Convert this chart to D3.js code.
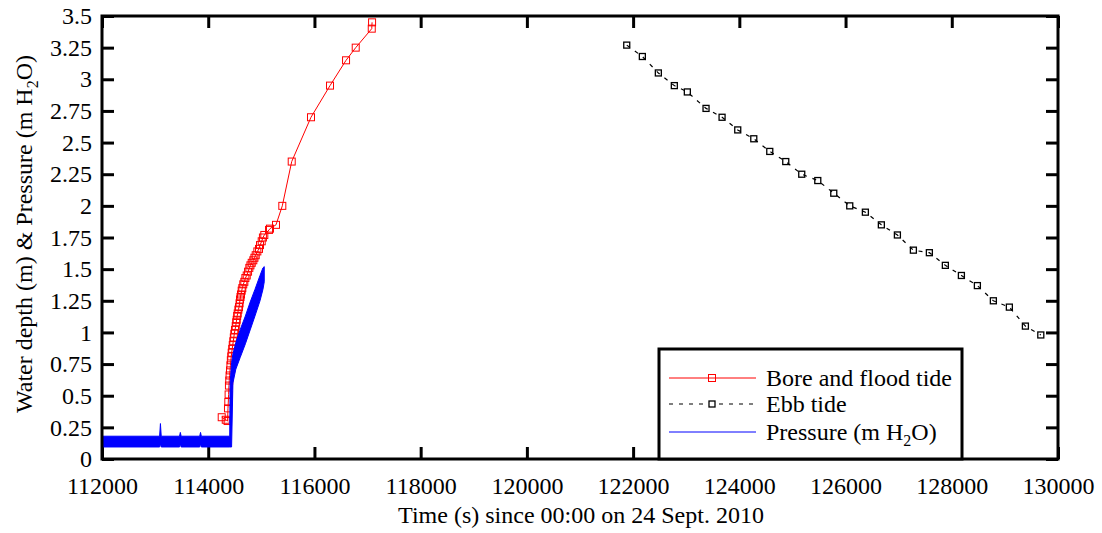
<!DOCTYPE html>
<html>
<head>
<meta charset="utf-8">
<script src="https://cdn.jsdelivr.net/npm/d3@7"></script>
<style>
  body { margin: 0; background: #fff; }
</style>
</head>
<body>
<div id="chart"></div>
<script>
/**
 * CONSTANTS AND GLOBALS
 * */
const width = 1102,
  height = 533,
  margin = { top: 16, bottom: 74, left: 102, right: 44 },
  fontSize = 24,
  serif = '"Liberation Serif", "DejaVu Serif", serif';

// tick values + labels
const xTicks = [112000, 114000, 116000, 118000, 120000, 122000, 124000, 126000, 128000, 130000];
const xTickLabels = ["112000", "114000", "116000", "118000", "120000", "122000", "124000", "126000", "128000", "130000"];
const yTicks = [0, 0.25, 0.5, 0.75, 1, 1.25, 1.5, 1.75, 2, 2.25, 2.5, 2.75, 3, 3.25, 3.5];
const yTickLabels = ["0", "0.25", "0.5", "0.75", "1", "1.25", "1.5", "1.75", "2", "2.25", "2.5", "2.75", "3", "3.25", "3.5"];

// bore and flood tide: [time (s), depth (m)]
const boreTide = [
  [114254, 0.33], [114330, 0.31], [114365, 0.30], [114372, 0.40], [114378, 0.45],
  [114384, 0.51], [114390, 0.58], [114396, 0.62], [114402, 0.66], [114410, 0.70],
  [114418, 0.74], [114426, 0.78], [114434, 0.81], [114442, 0.84], [114452, 0.87],
  [114462, 0.90], [114472, 0.93], [114482, 0.96], [114491, 0.99], [114504, 1.02],
  [114518, 1.05], [114527, 1.08], [114536, 1.10], [114545, 1.13], [114555, 1.15],
  [114568, 1.18], [114580, 1.20], [114590, 1.23], [114599, 1.26], [114608, 1.28],
  [114617, 1.30], [114630, 1.33], [114642, 1.35], [114660, 1.38], [114680, 1.40],
  [114700, 1.43], [114725, 1.45], [114750, 1.48], [114774, 1.51], [114795, 1.53],
  [114819, 1.55], [114849, 1.57], [114870, 1.59], [114894, 1.61], [114925, 1.64],
  [114956, 1.66], [114975, 1.69], [115007, 1.72], [115030, 1.75], [115056, 1.77],
  [115145, 1.81], [115163, 1.82], [115276, 1.85], [115395, 2.00], [115572, 2.35],
  [115935, 2.70], [116293, 2.95], [116595, 3.15], [116777, 3.25], [117079, 3.40],
  [117085, 3.45]
];

// ebb tide: [time (s), depth (m)]
const ebbTide = [
  [121880, 3.27], [122174, 3.18], [122475, 3.05], [122776, 2.95], [123021, 2.90],
  [123373, 2.77], [123675, 2.70], [123970, 2.60], [124272, 2.53], [124573, 2.43],
  [124874, 2.35], [125175, 2.25], [125477, 2.20], [125778, 2.10], [126079, 2.00],
  [126373, 1.95], [126674, 1.85], [126976, 1.77], [127277, 1.65], [127578, 1.63],
  [127879, 1.53], [128181, 1.45], [128482, 1.37], [128783, 1.25], [129084, 1.20],
  [129386, 1.05], [129676, 0.98]
];

// pressure (m H2O), dense noisy record drawn as its low/high envelope: [time, low, high]
const pressure = [
  [112000, 0.095, 0.18], [113085, 0.095, 0.18], [113100, 0.12, 0.28], [113115, 0.095, 0.18],
  [113460, 0.095, 0.18], [113475, 0.12, 0.21], [113490, 0.095, 0.18],
  [113840, 0.095, 0.18], [113855, 0.12, 0.21], [113870, 0.095, 0.18],
  [114405, 0.095, 0.18], [114412, 0.095, 0.60], [114440, 0.095, 0.76],
  [114465, 0.60, 0.83], [114520, 0.71, 0.92], [114600, 0.80, 1.02],
  [114700, 0.91, 1.13], [114790, 1.02, 1.24], [114880, 1.13, 1.34],
  [114975, 1.25, 1.45], [115030, 1.34, 1.51], [115055, 1.40, 1.52]
];

const legendItems = ["Bore and flood tide", "Ebb tide", "Pressure (m H"];

/**
 * SCALES
 * */
const xScale = d3.scaleLinear()
  .domain([112000, 130000])
  .range([margin.left, width - margin.right]);

const yScale = d3.scaleLinear()
  .domain([0, 3.5])
  .range([height - margin.bottom, margin.top]);

const svg = d3.select("#chart")
  .append("svg")
  .attr("width", width)
  .attr("height", height)
  .attr("font-family", serif);

// AXES (ticks point inward like gnuplot)
function styleAxis(g) {
  g.attr("font-family", serif).attr("font-size", fontSize);
  g.select(".domain").remove();
  g.selectAll(".tick line").attr("stroke", "#000").attr("stroke-width", 3);
  g.selectAll(".tick text")
    .style("font-family", serif)
    .style("font-size", fontSize + "px")
    .attr("fill", "#000");
}

svg.append("g")
  .attr("transform", `translate(0,${height - margin.bottom})`)
  .call(d3.axisBottom(xScale).tickValues(xTicks).tickFormat((d, i) => xTickLabels[i])
    .tickSizeInner(-12).tickSizeOuter(0).tickPadding(18))
  .call(styleAxis);

svg.append("g")
  .attr("transform", `translate(0,${margin.top})`)
  .call(d3.axisTop(xScale).tickValues(xTicks).tickFormat("")
    .tickSizeInner(-12).tickSizeOuter(0))
  .call(styleAxis);

svg.append("g")
  .attr("transform", `translate(${margin.left},0)`)
  .call(d3.axisLeft(yScale).tickValues(yTicks).tickFormat((d, i) => yTickLabels[i])
    .tickSizeInner(-12).tickSizeOuter(0).tickPadding(10))
  .call(styleAxis);

svg.append("g")
  .attr("transform", `translate(${width - margin.right},0)`)
  .call(d3.axisRight(yScale).tickValues(yTicks).tickFormat("")
    .tickSizeInner(-12).tickSizeOuter(0))
  .call(styleAxis);

// DATA
const pressureArea = d3.area()
  .x(d => xScale(d[0]))
  .y0(d => yScale(d[1]))
  .y1(d => yScale(d[2]));

const line = d3.line()
  .x(d => xScale(d[0]))
  .y(d => yScale(d[1]));

// bore + flood tide
svg.append("path")
  .datum(boreTide)
  .attr("d", line)
  .attr("fill", "none")
  .attr("stroke", "#ff0000")
  .attr("stroke-width", 1);

svg.selectAll(".bore-pt")
  .data(boreTide)
  .join("rect")
  .attr("class", "bore-pt")
  .attr("x", d => xScale(d[0]) - 3.5)
  .attr("y", d => yScale(d[1]) - 3.5)
  .attr("width", 7)
  .attr("height", 7)
  .attr("fill", "none")
  .attr("stroke", "#ff0000")
  .attr("stroke-width", 1);

// ebb tide
svg.append("path")
  .datum(ebbTide)
  .attr("d", line)
  .attr("fill", "none")
  .attr("stroke", "#000")
  .attr("stroke-width", 1.2)
  .attr("stroke-dasharray", "4,6");

svg.selectAll(".ebb-pt")
  .data(ebbTide)
  .join("rect")
  .attr("class", "ebb-pt")
  .attr("x", d => xScale(d[0]) - 3)
  .attr("y", d => yScale(d[1]) - 3)
  .attr("width", 6)
  .attr("height", 6)
  .attr("fill", "none")
  .attr("stroke", "#000")
  .attr("stroke-width", 1.3);

// pressure
svg.append("path")
  .datum(pressure)
  .attr("d", pressureArea)
  .attr("fill", "#0000ff")
  .attr("stroke", "#0000ff")
  .attr("stroke-width", 1);

// FRAME
svg.append("rect")
  .attr("x", margin.left)
  .attr("y", margin.top)
  .attr("width", width - margin.left - margin.right)
  .attr("height", height - margin.top - margin.bottom)
  .attr("fill", "none")
  .attr("stroke", "#000")
  .attr("stroke-width", 3);

// AXIS LABELS
svg.append("text")
  .attr("x", 581)
  .attr("y", 523)
  .attr("text-anchor", "middle")
  .style("font-family", serif)
  .style("font-size", fontSize + "px")
  .text("Time (s) since 00:00 on 24 Sept. 2010");

const yLab = svg.append("text")
  .attr("transform", "translate(32,234) rotate(-90)")
  .attr("text-anchor", "middle")
  .style("font-family", serif)
  .style("font-size", fontSize + "px");
yLab.append("tspan").text("Water depth (m) & Pressure (m H");
yLab.append("tspan").attr("dy", 6).style("font-size", "16px").text("2");
yLab.append("tspan").attr("dy", -6).text("O)");

// LEGEND
const legend = svg.append("g");
legend.append("rect")
  .attr("x", 659)
  .attr("y", 349)
  .attr("width", 303)
  .attr("height", 110)
  .attr("fill", "#fff")
  .attr("stroke", "#000")
  .attr("stroke-width", 3);

const rowY = [378, 404, 432];
const lx0 = 669, lx1 = 756, lmid = 712;

legend.append("line")
  .attr("x1", lx0).attr("x2", lx1).attr("y1", rowY[0]).attr("y2", rowY[0])
  .attr("stroke", "#ff0000").attr("stroke-width", 1);
legend.append("rect")
  .attr("x", lmid - 3.5).attr("y", rowY[0] - 3.5).attr("width", 7).attr("height", 7)
  .attr("fill", "none").attr("stroke", "#ff0000");

legend.append("line")
  .attr("x1", lx0).attr("x2", lx1).attr("y1", rowY[1]).attr("y2", rowY[1])
  .attr("stroke", "#000").attr("stroke-width", 1.2).attr("stroke-dasharray", "4,6");
legend.append("rect")
  .attr("x", lmid - 3).attr("y", rowY[1] - 3).attr("width", 6).attr("height", 6)
  .attr("fill", "#fff").attr("stroke", "#000").attr("stroke-width", 1.3);

legend.append("line")
  .attr("x1", lx0).attr("x2", lx1).attr("y1", rowY[2]).attr("y2", rowY[2])
  .attr("stroke", "#0000ff").attr("stroke-width", 1);

legendItems.forEach((label, i) => {
  const t = legend.append("text")
    .attr("x", 766)
    .attr("y", rowY[i])
    .attr("dy", "0.32em")
    .style("font-family", serif)
    .style("font-size", fontSize + "px");
  t.append("tspan").text(label);
  if (i === 2) {
    t.append("tspan").attr("dy", 6).style("font-size", "16px").text("2");
    t.append("tspan").attr("dy", -6).text("O)");
  }
});
</script>
</body>
</html>
